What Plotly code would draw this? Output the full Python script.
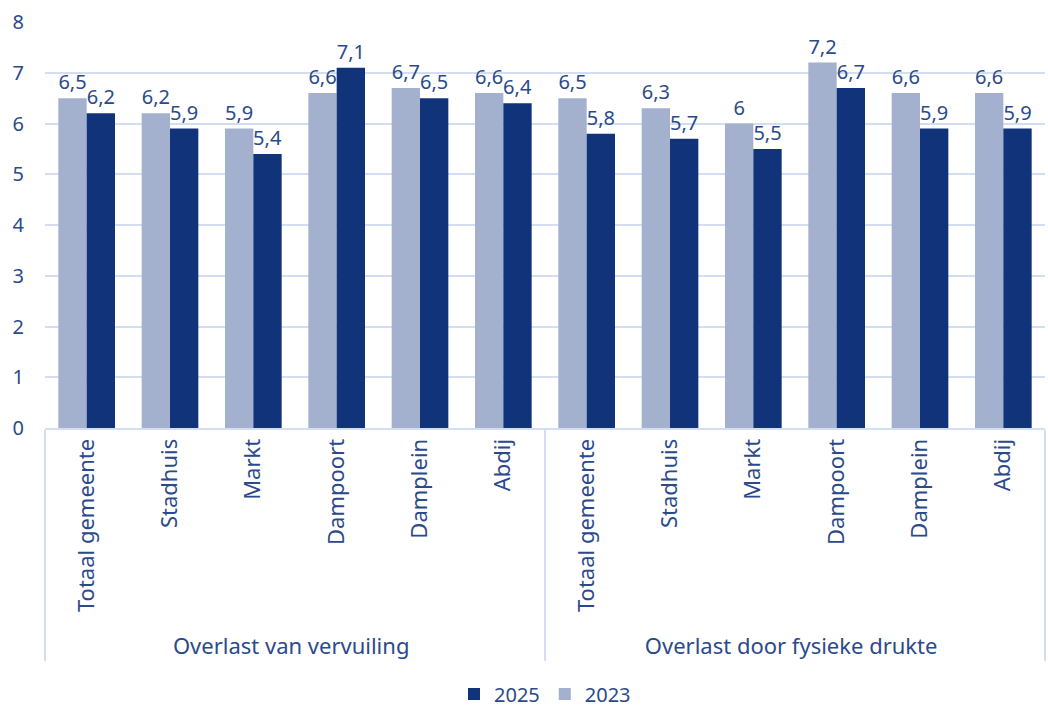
import plotly.graph_objects as go

groups = ["Overlast van vervuiling"] * 6 + ["Overlast door fysieke drukte"] * 6
places = ["Totaal gemeente", "Stadhuis", "Markt", "Dampoort", "Damplein", "Abdij"] * 2
values_2023 = [6.5, 6.2, 5.9, 6.6, 6.7, 6.6, 6.5, 6.3, 6.0, 7.2, 6.6, 6.6]
values_2025 = [6.2, 5.9, 5.4, 7.1, 6.5, 6.4, 5.8, 5.7, 5.5, 6.7, 5.9, 5.9]

LIGHT = "#a3b1cf"
DARK = "#10337a"
TEXT = "#2b4a8b"
GRID = "#d3def3"
FONT = "Noto Sans, Inter, sans-serif"
FS = 20


def fmt(v):
    s = f"{v:g}"
    return s.replace(".", ",")


fig = go.Figure()
fig.add_trace(go.Bar(
    x=[groups, places], y=values_2023, name="2023",
    marker=dict(color=LIGHT, line=dict(width=0)),
    text=[fmt(v) for v in values_2023], textposition="outside",
    textfont=dict(color=TEXT, size=FS, family=FONT),
    constraintext="none", cliponaxis=False, legendrank=2,
))
fig.add_trace(go.Bar(
    x=[groups, places], y=values_2025, name="2025",
    marker=dict(color=DARK, line=dict(width=0)),
    text=[fmt(v) for v in values_2025], textposition="outside",
    textfont=dict(color=TEXT, size=FS, family=FONT),
    constraintext="none", cliponaxis=False, legendrank=1,
))

fig.update_layout(
    width=1048, height=708,
    margin=dict(l=45, r=3, t=22, b=280, autoexpand=False),
    paper_bgcolor="white", plot_bgcolor="white",
    barmode="group", bargap=0.32, bargroupgap=0,
    font=dict(family=FONT, color=TEXT, size=FS),
    separators=",.",
    legend=dict(orientation="h", x=0.5, xanchor="center", y=-0.655, yanchor="middle",
                font=dict(size=FS, color=TEXT), itemwidth=30, traceorder="normal"),
    showlegend=True,
)
fig.update_yaxes(range=[0, 8], dtick=1, showgrid=True, gridcolor=GRID, gridwidth=2,
                 zeroline=False, showline=False, ticklabelstandoff=20,
                 tickfont=dict(size=FS, color=TEXT), automargin=False)
fig.update_xaxes(showline=True, linecolor=GRID, linewidth=2, tickangle=-90,
                 dividercolor=GRID, dividerwidth=2, automargin=False,
                 tickfont=dict(size=22, color=TEXT))

fig.write_html("out.html")
